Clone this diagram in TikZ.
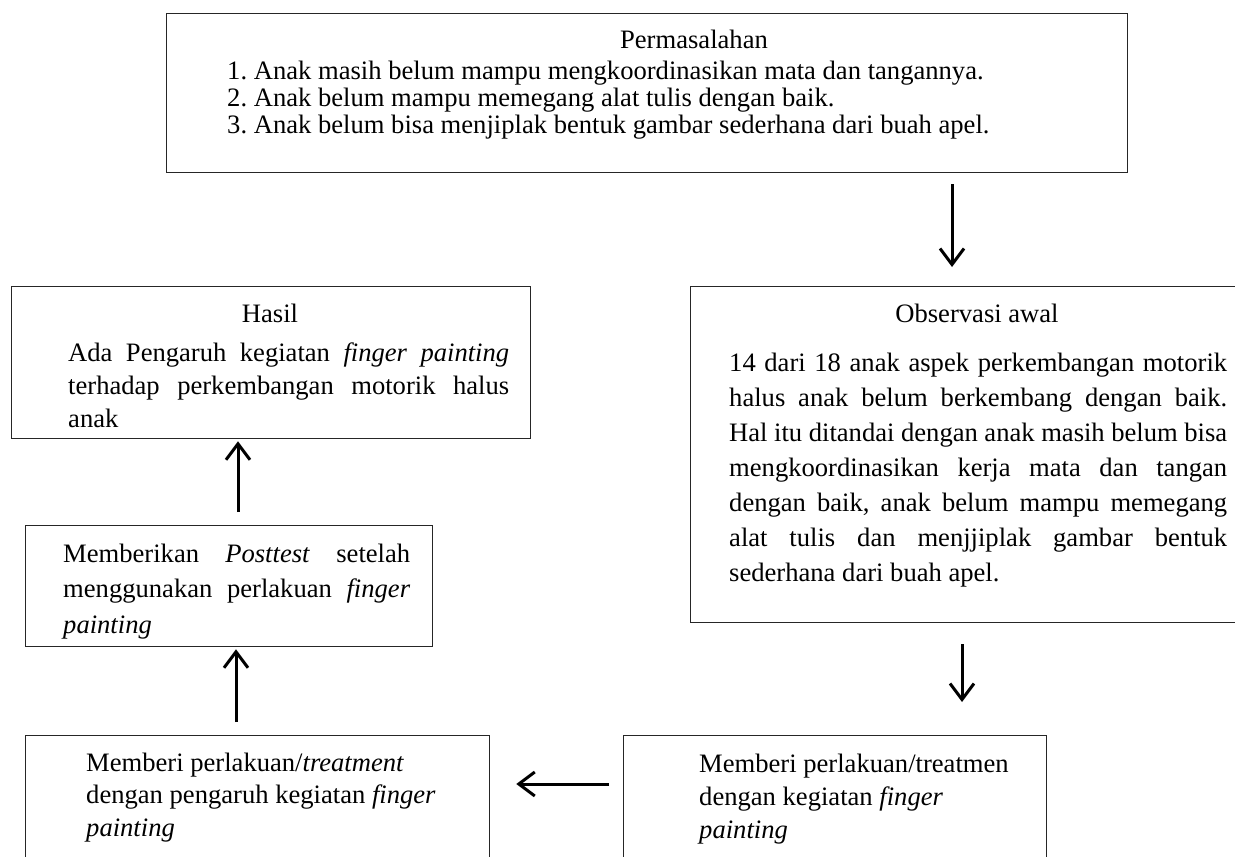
\documentclass[tikz,border=0pt]{standalone}
\usepackage{fontspec}
\setmainfont{Liberation Serif}
\usetikzlibrary{arrows.meta}
\frenchspacing
\tikzset{
  box/.style={draw=black!85, line width=1.3pt, inner sep=0pt, anchor=north west},
  arr/.style={line width=3pt, -{Straight Barb[length=16pt,width=24pt]}},
  body/.style={inner sep=0pt, anchor=base west},
  ttl/.style={inner sep=0pt, anchor=base, font=\fontsize{26.6pt}{32pt}\selectfont},
}
\newcommand\jline[2]{\makebox[#1][s]{#2}}
\begin{document}
\begin{tikzpicture}[x=1pt,y=-1pt]
\useasboundingbox (0,0) rectangle (1235,857);
% boxes
\node[box, minimum width=961pt, minimum height=159pt] (prob) at (166,13) {};
\node[box, minimum width=575pt, minimum height=336pt] (obs) at (690,286) {};
\node[box, minimum width=519pt, minimum height=152pt] (hasil) at (11,286) {};
\node[box, minimum width=407pt, minimum height=121pt] (post) at (25,525) {};
\node[box, minimum width=464pt, minimum height=200pt] (tp) at (25,735) {};
\node[box, minimum width=423pt, minimum height=200pt] (tr) at (623,735) {};
% texts
\node[ttl] (probt) at (694,48) {Permasalahan};
\node[body] (probb) at (227,79) {\parbox[t]{850pt}{\fontsize{26.6pt}{27pt}\selectfont\noindent
1. Anak masih belum mampu mengkoordinasikan mata dan tangannya.\\
2. Anak belum mampu memegang alat tulis dengan baik.\\
3. Anak belum bisa menjiplak bentuk gambar sederhana dari buah apel.}};
\node[ttl] (obst) at (977,322) {Observasi awal};
\node[body] (obsb) at (729,371) {\parbox[t]{498pt}{\fontsize{26.6pt}{35.1pt}\selectfont\noindent
\jline{498pt}{14 dari 18 anak aspek perkembangan motorik}\\
\jline{498pt}{halus anak belum berkembang dengan baik.}\\
\jline{498pt}{Hal itu ditandai dengan anak masih belum bisa}\\
\jline{498pt}{mengkoordinasikan kerja mata dan tangan}\\
\jline{498pt}{dengan baik, anak belum mampu memegang}\\
\jline{498pt}{alat tulis dan menjjiplak gambar bentuk}\\
sederhana dari buah apel.}};
\node[ttl] (hasilt) at (270,322) {Hasil};
\node[body] (hasilb) at (68,361) {\parbox[t]{441pt}{\fontsize{26.6pt}{33pt}\selectfont\noindent
\jline{441pt}{Ada Pengaruh kegiatan \textit{finger painting}}\\
\jline{441pt}{terhadap perkembangan motorik halus}\\
anak}};
\node[body] (postb) at (63,562) {\parbox[t]{347pt}{\fontsize{26.6pt}{35.5pt}\selectfont\noindent
\jline{347pt}{Memberikan \textit{Posttest} setelah}\\
\jline{347pt}{menggunakan perlakuan \textit{finger}}\\
\textit{painting}}};
\node[body] (tpb) at (86,771) {\parbox[t]{400pt}{\fontsize{26.6pt}{32.5pt}\selectfont\noindent
Memberi perlakuan/\textit{treatment}\\
dengan pengaruh kegiatan \textit{finger}\\
\textit{painting}}};
\node[body] (trb) at (699,772) {\parbox[t]{340pt}{\fontsize{26.6pt}{33pt}\selectfont\noindent
Memberi perlakuan/treatmen\\
dengan kegiatan \textit{finger}\\
\textit{painting}}};
% connectors
\coordinate (x1) at (952,0);
\coordinate (x2) at (962,0);
\coordinate (y3) at (0,784);
\coordinate (x4) at (236,0);
\coordinate (x5) at (238,0);
\draw[arr, shorten <=11pt, shorten >=19pt] (prob.south -| x1) -- (obs.north -| x1);
\draw[arr, shorten <=21pt, shorten >=33pt] (obs.south -| x2) -- (tr.north -| x2);
\draw[arr, shorten <=14pt, shorten >=26pt] (tr.west |- y3) -- (tp.east |- y3);
\draw[arr, shorten <=13pt, shorten >=2pt] (tp.north -| x4) -- (post.south -| x4);
\draw[arr, shorten <=13pt, shorten >=2pt] (post.north -| x5) -- (hasil.south -| x5);
\end{tikzpicture}
\end{document}
